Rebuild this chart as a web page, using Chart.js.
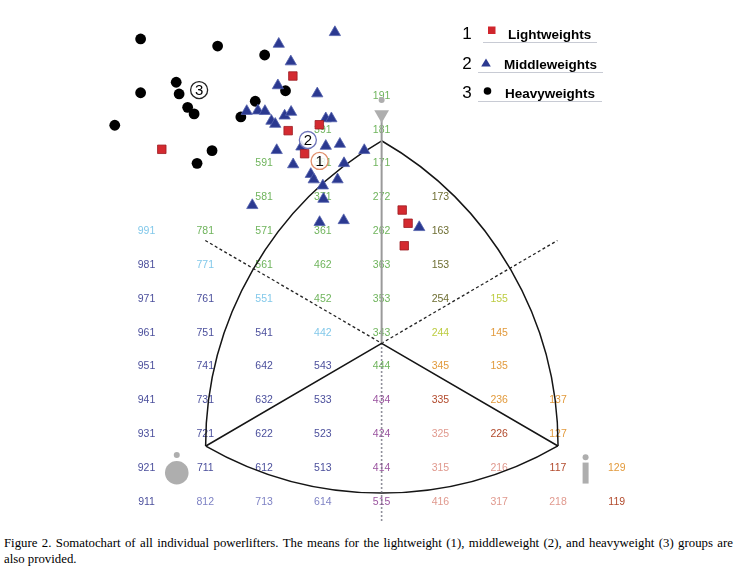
<!DOCTYPE html>
<html>
<head>
<meta charset="utf-8">
<script src="https://cdn.jsdelivr.net/npm/chart.js@4.4.1/dist/chart.umd.min.js"></script>
<style>
body { margin: 0; background: #fff; }
#wrap { position: relative; width: 738px; height: 580px; }
canvas { position: absolute; left: 0; top: 0; }
#caption {
    position: absolute; left: 4px; top: 536px; width: 729px;
    font-family: "Liberation Serif", "Times New Roman", serif;
    font-size: 12.8px; line-height: 15.5px; color: #000;
}
#caption .first { text-align: justify; text-align-last: justify; white-space: nowrap; }
</style>
</head>
<body>
<div id="wrap">
    <canvas id="somatoChart" width="738" height="530"></canvas>
    <div id="caption"><div class="first">Figure 2. Somatochart of all individual powerlifters. The means for the lightweight (1), middleweight (2), and heavyweight (3) groups are</div><div>also provided.</div></div>
</div>
<script>
// somatochart coordinates: X = ecto - endo, Y = 2*meso - endo - ecto
let lightX = [-3.02, -3.18, -2.12, -7.48, -2.62, 0.70, 0.90, 0.77]
let lightY = [17.14, 13.91, 14.26, 12.81, 12.55, 9.22, 8.44, 7.11]

let middleX = [-1.59, -3.50, -3.09, -3.53, -2.19, -4.59, -4.21, -3.97, -3.75, -3.62, -3.30, -3.08, -1.90, -1.71,
    -3.57, -2.73, -1.90, -1.42, -0.59, -3.01, -1.28, -2.41, -2.31, -1.50, -2.00, -1.98, -4.40, -2.11, -1.29, 1.28]
let middleY = [19.72, 19.03, 17.99, 16.58, 16.10, 15.06, 15.09, 15.06, 14.48, 14.30, 14.79, 15.01, 14.63, 14.63,
    12.75, 12.96, 13.00, 13.12, 12.75, 11.91, 11.98, 11.34, 11.02, 11.02, 10.66, 9.87, 9.50, 8.50, 8.61, 8.20]

let heavyX = [-8.20, -5.58, -3.98, -6.99, -8.20, -6.89, -6.60, -6.38, -9.08, -3.27, -4.30, -4.79, -5.77, -6.28]
let heavyY = [19.33, 18.91, 18.38, 16.77, 16.15, 16.08, 15.29, 14.90, 14.23, 16.27, 15.65, 14.72, 12.73, 11.98]

let meanNames = ['1', '2', '3']
let meanX = [-2.11, -2.51, -6.21]
let meanY = [12.12, 13.36, 16.31]

let groupNames = ['Lightweights', 'Middleweights', 'Heavyweights']

// somatotype ratings printed on the chart grid (endo, meso, ecto)
let gridLabels = [
    '991', '981', '971', '961', '951', '941', '931', '921', '911',
    '781', '771', '761', '751', '741', '731', '721', '711', '812',
    '591', '581', '571', '561', '551', '541', '642', '632', '622', '612', '713',
    '391', '381', '371', '361', '462', '452', '442', '543', '533', '523', '513', '614',
    '191', '181', '171', '272', '262', '363', '353', '343', '444', '434', '424', '414', '515',
    '173', '163', '153', '254', '244', '345', '335', '325', '315', '416',
    '155', '145', '135', '236', '226', '216', '317',
    '137', '127', '117', '218',
    '129', '119'
]

// Reuleaux triangle: left (endo), right (ecto), top (meso) vertices and centre
let vertexX = [-5.98, 6.00, 0.00]
let vertexY = [-4.72, -4.72, 13.32]
let centreX = 0.00
let centreY = 1.35
let axisTopY = 14.48
let axisBottomY = -9.27

// small grey body-type icons
let iconX = [0.00, -6.97, 6.94]
let iconHeadY = [15.72, -5.25, -5.39]
let iconBodyY = [14.87, -6.30, -6.32]

const labelColour = {}
const colourGroups = {
    '#82c8ea': ['991', '771', '551', '442'],
    '#6fb45c': ['781', '591', '581', '571', '561', '391', '381', '371', '361', '462', '452',
        '191', '181', '171', '272', '262', '363', '353', '343', '444'],
    '#4b4f9c': ['981', '971', '961', '951', '941', '931', '921', '911', '761', '751', '741', '731',
        '721', '711', '541', '642', '632', '622', '612', '543', '533', '523', '513'],
    '#7e82c4': ['812', '713', '614'],
    '#9b55a0': ['434', '424', '414', '515'],
    '#6e6e32': ['173', '163', '153', '254'],
    '#bccc40': ['244', '155'],
    '#e29a3c': ['345', '145', '135', '236', '137', '127', '129'],
    '#b24a2c': ['335', '226', '117', '119'],
    '#e0998e': ['325', '315', '216', '416', '317', '218']
}
Object.keys(colourGroups).forEach(c => colourGroups[c].forEach(l => labelColour[l] = c))

const toPoints = (xs, ys) => xs.map((x, i) => ({x: x, y: ys[i]}))

function ratingToXY(label) {
    let endo = +label[0], meso = +label[1], ecto = +label[2]
    return {x: ecto - endo, y: 2 * meso - endo - ecto}
}

const gridText = {
    id: 'gridText',
    beforeDatasetsDraw(chart) {
        const {ctx, scales: {x, y}} = chart
        ctx.save()
        // the printed grid stops just short of the last column
        ctx.beginPath()
        ctx.rect(0, 0, 625, chart.height)
        ctx.clip()
        ctx.font = '10.5px "Liberation Sans", Arial, sans-serif'
        ctx.textAlign = 'center'
        ctx.textBaseline = 'middle'
        gridLabels.forEach(l => {
            let p = ratingToXY(l)
            ctx.fillStyle = labelColour[l] || '#666'
            ctx.fillText(l, x.getPixelForValue(p.x), y.getPixelForValue(p.y) + 0.5)
        })
        ctx.restore()
    }
}

const reuleaux = {
    id: 'reuleaux',
    beforeDatasetsDraw(chart) {
        const {ctx, scales: {x, y}} = chart
        let v = vertexX.map((vx, i) => ({x: x.getPixelForValue(vx), y: y.getPixelForValue(vertexY[i])}))
        let L = v[0], R = v[1], A = v[2]
        const ang = (p, c) => Math.atan2(p.y - c.y, p.x - c.x)
        const dist = (p, c) => Math.hypot(p.x - c.x, p.y - c.y)
        ctx.save()
        ctx.strokeStyle = '#151515'
        ctx.lineWidth = 1.5
        ctx.beginPath()
        ctx.arc(A.x, A.y, (dist(L, A) + dist(R, A)) / 2, ang(R, A), ang(L, A))
        ctx.stroke()
        ctx.beginPath()
        ctx.arc(R.x, R.y, (dist(L, R) + dist(A, R)) / 2, ang(L, R), ang(A, R) + 2 * Math.PI)
        ctx.stroke()
        ctx.beginPath()
        ctx.arc(L.x, L.y, (dist(R, L) + dist(A, L)) / 2, ang(A, L), ang(R, L))
        ctx.stroke()
        ctx.restore()
    }
}

const meansAndKey = {
    id: 'meansAndKey',
    afterDatasetsDraw(chart) {
        const {ctx, scales: {x, y}} = chart
        const ringColours = ['#e0906c', '#6d73b8', '#222222']
        ctx.save()
        meanNames.forEach((n, i) => {
            let px = x.getPixelForValue(meanX[i]), py = y.getPixelForValue(meanY[i])
            ctx.beginPath()
            ctx.arc(px, py, 8.5, 0, 2 * Math.PI)
            ctx.fillStyle = 'rgba(255,255,255,0.85)'
            ctx.fill()
            ctx.lineWidth = 1.3
            ctx.strokeStyle = ringColours[i]
            ctx.stroke()
            ctx.fillStyle = '#000'
            ctx.font = '15px "Liberation Sans", Arial, sans-serif'
            ctx.textAlign = 'center'
            ctx.textBaseline = 'middle'
            ctx.fillText(n, px, py + 1)
        })

        // key
        const rows = [33, 63, 92]
        const textX = [508, 504, 505]
        const lineFrom = [483, 478, 478]
        const lineTo = [597, 603, 602]
        groupNames.forEach((g, i) => {
            let ry = rows[i]
            ctx.fillStyle = '#000'
            ctx.font = '17px "Liberation Sans", Arial, sans-serif'
            ctx.textAlign = 'center'
            ctx.textBaseline = 'middle'
            ctx.fillText(meanNames[i], 467, ry + 1)
            ctx.font = 'bold 13.5px "Liberation Sans", Arial, sans-serif'
            ctx.textAlign = 'left'
            ctx.fillText(g, textX[i], ry + 2)
            ctx.strokeStyle = '#c8cbd4'
            ctx.lineWidth = 1
            ctx.beginPath()
            ctx.moveTo(lineFrom[i], ry + 9.5)
            ctx.lineTo(lineTo[i], ry + 9.5)
            ctx.stroke()
        })
        ctx.fillStyle = '#d0262d'
        ctx.fillRect(488, 26.5, 7.5, 7.5)
        ctx.fillStyle = '#2b3990'
        ctx.beginPath()
        ctx.moveTo(486, 58.5)
        ctx.lineTo(490.8, 66.5)
        ctx.lineTo(481.2, 66.5)
        ctx.closePath()
        ctx.fill()
        ctx.fillStyle = '#000'
        ctx.beginPath()
        ctx.arc(487.5, 91, 3.8, 0, 2 * Math.PI)
        ctx.fill()
        ctx.restore()
    }
}

let centre = {x: centreX, y: centreY}
let verts = toPoints(vertexX, vertexY)

let data = {
    datasets: [{
        label: groupNames[0],
        data: toPoints(lightX, lightY),
        pointStyle: 'rect',
        pointRadius: 6,
        backgroundColor: '#d42a30',
        borderColor: '#9c1c22',
        borderWidth: 0.8
    }, {
        label: groupNames[1],
        data: toPoints(middleX, middleY),
        pointStyle: 'triangle',
        pointRadius: 6.5,
        backgroundColor: '#2b3990',
        borderColor: '#5462ad',
        borderWidth: 0.8
    }, {
        label: groupNames[2],
        data: toPoints(heavyX, heavyY),
        pointStyle: 'circle',
        pointRadius: 5.4,
        backgroundColor: '#000',
        borderColor: '#000',
        borderWidth: 0
    }, {
        label: 'icon heads',
        data: toPoints(iconX, iconHeadY),
        pointStyle: 'circle',
        pointRadius: 3,
        backgroundColor: '#aeaeae',
        borderWidth: 0
    }, {
        label: 'meso icon',
        data: [{x: iconX[0], y: iconBodyY[0]}],
        pointStyle: 'triangle',
        rotation: 180,
        pointRadius: 8.5,
        backgroundColor: '#aeaeae',
        borderWidth: 0
    }, {
        label: 'endo icon',
        data: [{x: iconX[1], y: iconBodyY[1]}],
        pointStyle: 'circle',
        pointRadius: 11.8,
        backgroundColor: '#aeaeae',
        borderWidth: 0
    }, {
        label: 'ecto icon',
        data: [{x: iconX[2], y: iconBodyY[2]}],
        pointStyle: 'line',
        rotation: 90,
        pointRadius: 10.5,
        borderColor: '#aeaeae',
        borderWidth: 6
    }, {
        label: 'axes',
        data: [verts[0], centre, verts[1]],
        showLine: true,
        pointRadius: 0,
        borderColor: '#151515',
        borderWidth: 1.5
    }, {
        label: 'meso axis',
        data: [centre, {x: centreX, y: axisTopY}],
        showLine: true,
        pointRadius: 0,
        borderColor: '#9a9a9a',
        borderWidth: 2
    }, {
        label: 'dashed',
        data: [{x: 2 * centreX - vertexX[1], y: 2 * centreY - vertexY[1]}, centre,
               {x: 2 * centreX - vertexX[0], y: 2 * centreY - vertexY[0]}],
        showLine: true,
        pointRadius: 0,
        borderColor: '#222',
        borderWidth: 1.3,
        borderDash: [3, 2.5]
    }, {
        label: 'dotted',
        data: [centre, {x: centreX, y: axisBottomY}],
        showLine: true,
        pointRadius: 0,
        borderColor: '#6c6c7a',
        borderWidth: 1.6,
        borderDash: [1.6, 2.4]
    }]
}

const config = {
    type: 'scatter',
    data: data,
    plugins: [gridText, reuleaux, meansAndKey],
    options: {
        responsive: false,
        animation: false,
        events: [],
        layout: {padding: 0, autoPadding: false},
        scales: {
            x: {type: 'linear', min: -12.985, max: 12.126, display: false},
            y: {type: 'linear', min: -9.684, max: 21.631, display: false}
        },
        plugins: {
            legend: {display: false},
            tooltip: {enabled: false}
        }
    }
}

new Chart(document.getElementById('somatoChart').getContext('2d'), config)
</script>
</body>
</html>
